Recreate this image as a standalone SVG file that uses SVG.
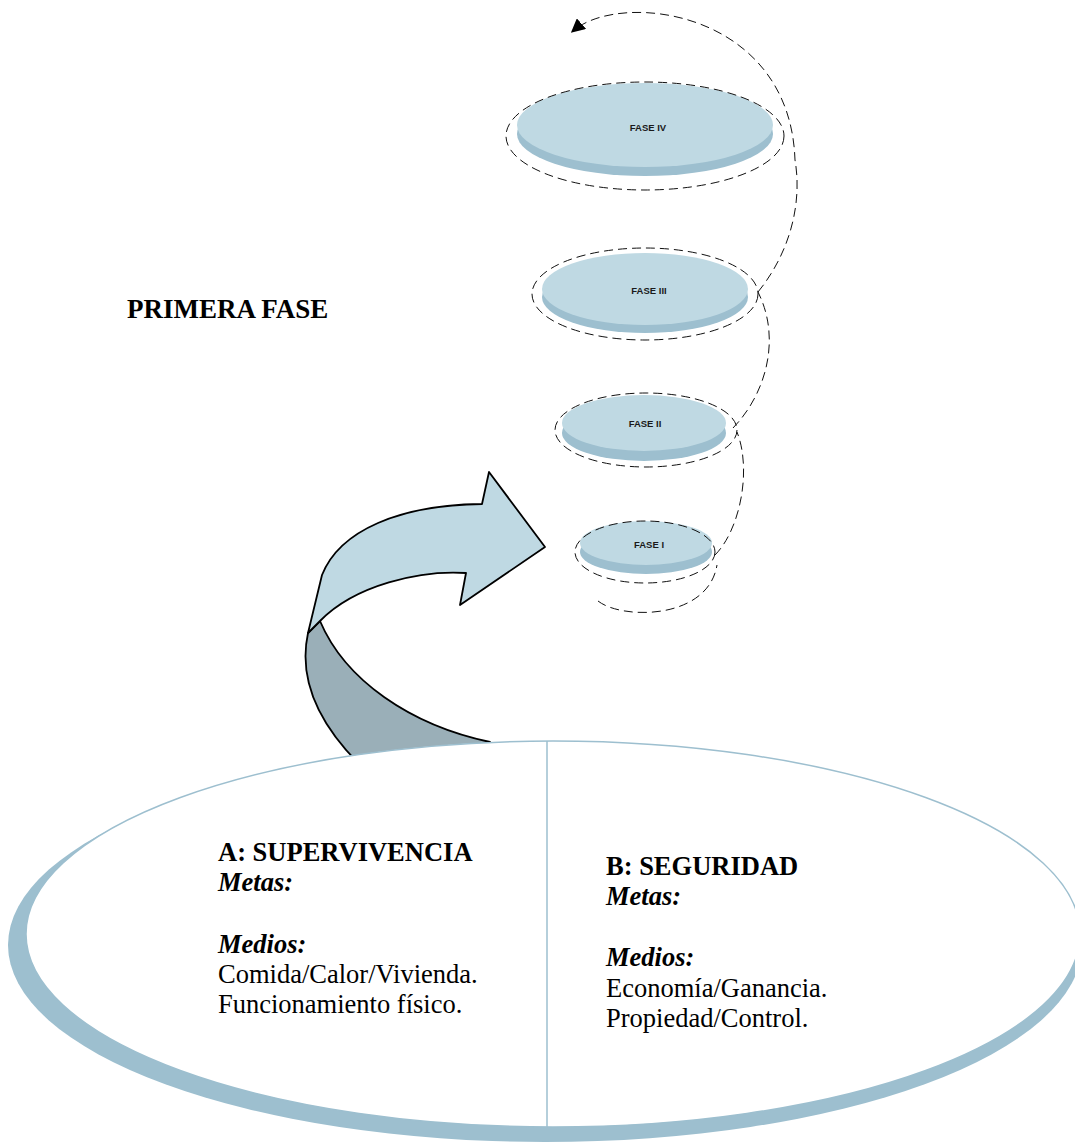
<svg xmlns="http://www.w3.org/2000/svg" width="1075" height="1142" viewBox="0 0 1075 1142">
<defs>
<style>
.face{fill:#BFD9E3;}
.side{fill:#9DBFCF;}
.lbl{font-family:"Liberation Sans",Arial,sans-serif;font-weight:bold;font-size:9.5px;fill:#1a1a1a;text-anchor:middle;}
.dash{fill:none;stroke:#111;stroke-width:1;stroke-dasharray:9 5;}
.serif{font-family:"Liberation Serif","Times New Roman",serif;font-size:26.5px;fill:#000;}
.b{font-weight:bold;}
.bi{font-weight:bold;font-style:italic;}
.arrowline{stroke:#000;stroke-width:1.8;stroke-linejoin:round;}
</style>
<marker id="ah" markerUnits="userSpaceOnUse" markerWidth="14" markerHeight="14" viewBox="0 0 10 10" refX="8" refY="5" orient="auto">
<path d="M0,0 L10,5 L0,10 z" fill="#000"/>
</marker>
</defs>
<rect width="1075" height="1142" fill="#fff"/>

<g id="curved-arrow">
<path class="arrowline" fill="#9AAFB8" d="M308,633 C300,670 310,715 360,765 L495,765 L490,742 C410,725 345,680 320,621 Z"/>
<path class="arrowline" fill="#BFD9E3" d="M482,504 L489,472 L545,547 L460,605 L466,573 C420,570 355,585 320,621 L308,633 L322,575 C340,530 400,505 482,504 Z"/>
</g>

<g id="base-ellipse">
<ellipse cx="545" cy="945" rx="537" ry="197" fill="#9DBFCF"/>
<ellipse cx="553" cy="934" rx="527" ry="193" fill="#fff" stroke="#9DBFCF" stroke-width="1.5"/>
<line x1="547" y1="741" x2="547" y2="1127" stroke="#9DBFCF" stroke-width="1.5"/>
</g>

<g id="fase-iv">
<ellipse class="side" cx="645" cy="134" rx="128" ry="42"/>
<ellipse class="face" cx="645" cy="125" rx="128" ry="42"/>
<text class="lbl" x="648" y="131">FASE IV</text>
</g>
<g id="fase-iii">
<ellipse class="side" cx="645" cy="297" rx="103" ry="36"/>
<ellipse class="face" cx="645" cy="289" rx="103" ry="36"/>
<text class="lbl" x="649" y="294">FASE III</text>
</g>
<g id="fase-ii">
<ellipse class="side" cx="644" cy="433" rx="82" ry="28"/>
<ellipse class="face" cx="644" cy="423" rx="82" ry="28"/>
<text class="lbl" x="645" y="427">FASE II</text>
</g>
<g id="fase-i">
<ellipse class="side" cx="646" cy="552" rx="66" ry="22"/>
<ellipse class="face" cx="646" cy="543" rx="66" ry="22"/>
<text class="lbl" x="649" y="548">FASE I</text>
</g>

<g id="connectors">
<ellipse class="dash" cx="645" cy="136" rx="139" ry="54"/>
<ellipse class="dash" cx="645" cy="294" rx="113" ry="46"/>
<ellipse class="dash" cx="646" cy="430" rx="91" ry="37"/>
<ellipse class="dash" cx="645" cy="552" rx="70" ry="31"/>
<path class="dash" d="M598,601 C622,620 708,620 717,565"/>
<path class="dash" d="M715,555 C740,530 752,470 737,432"/>
<path class="dash" d="M733,428 C765,395 782,340 758,292"/>
<path class="dash" d="M758,292 C792,250 802,200 795,160 C790,10 620,-10 573,31" marker-end="url(#ah)"/>
</g>

<text id="title" class="serif b" x="127" y="318" style="font-size:27px">PRIMERA FASE</text>

<g id="text-a" class="serif">
<text x="218" y="861" class="b">A: SUPERVIVENCIA</text>
<text x="218" y="891" class="bi">Metas:</text>
<text x="218" y="953" class="bi">Medios:</text>
<text x="218" y="983">Comida/Calor/Vivienda.</text>
<text x="218" y="1013">Funcionamiento físico.</text>
</g>
<g id="text-b" class="serif">
<text x="606" y="875" class="b">B: SEGURIDAD</text>
<text x="606" y="905" class="bi">Metas:</text>
<text x="606" y="966" class="bi">Medios:</text>
<text x="606" y="997">Economía/Ganancia.</text>
<text x="606" y="1027">Propiedad/Control.</text>
</g>
</svg>
